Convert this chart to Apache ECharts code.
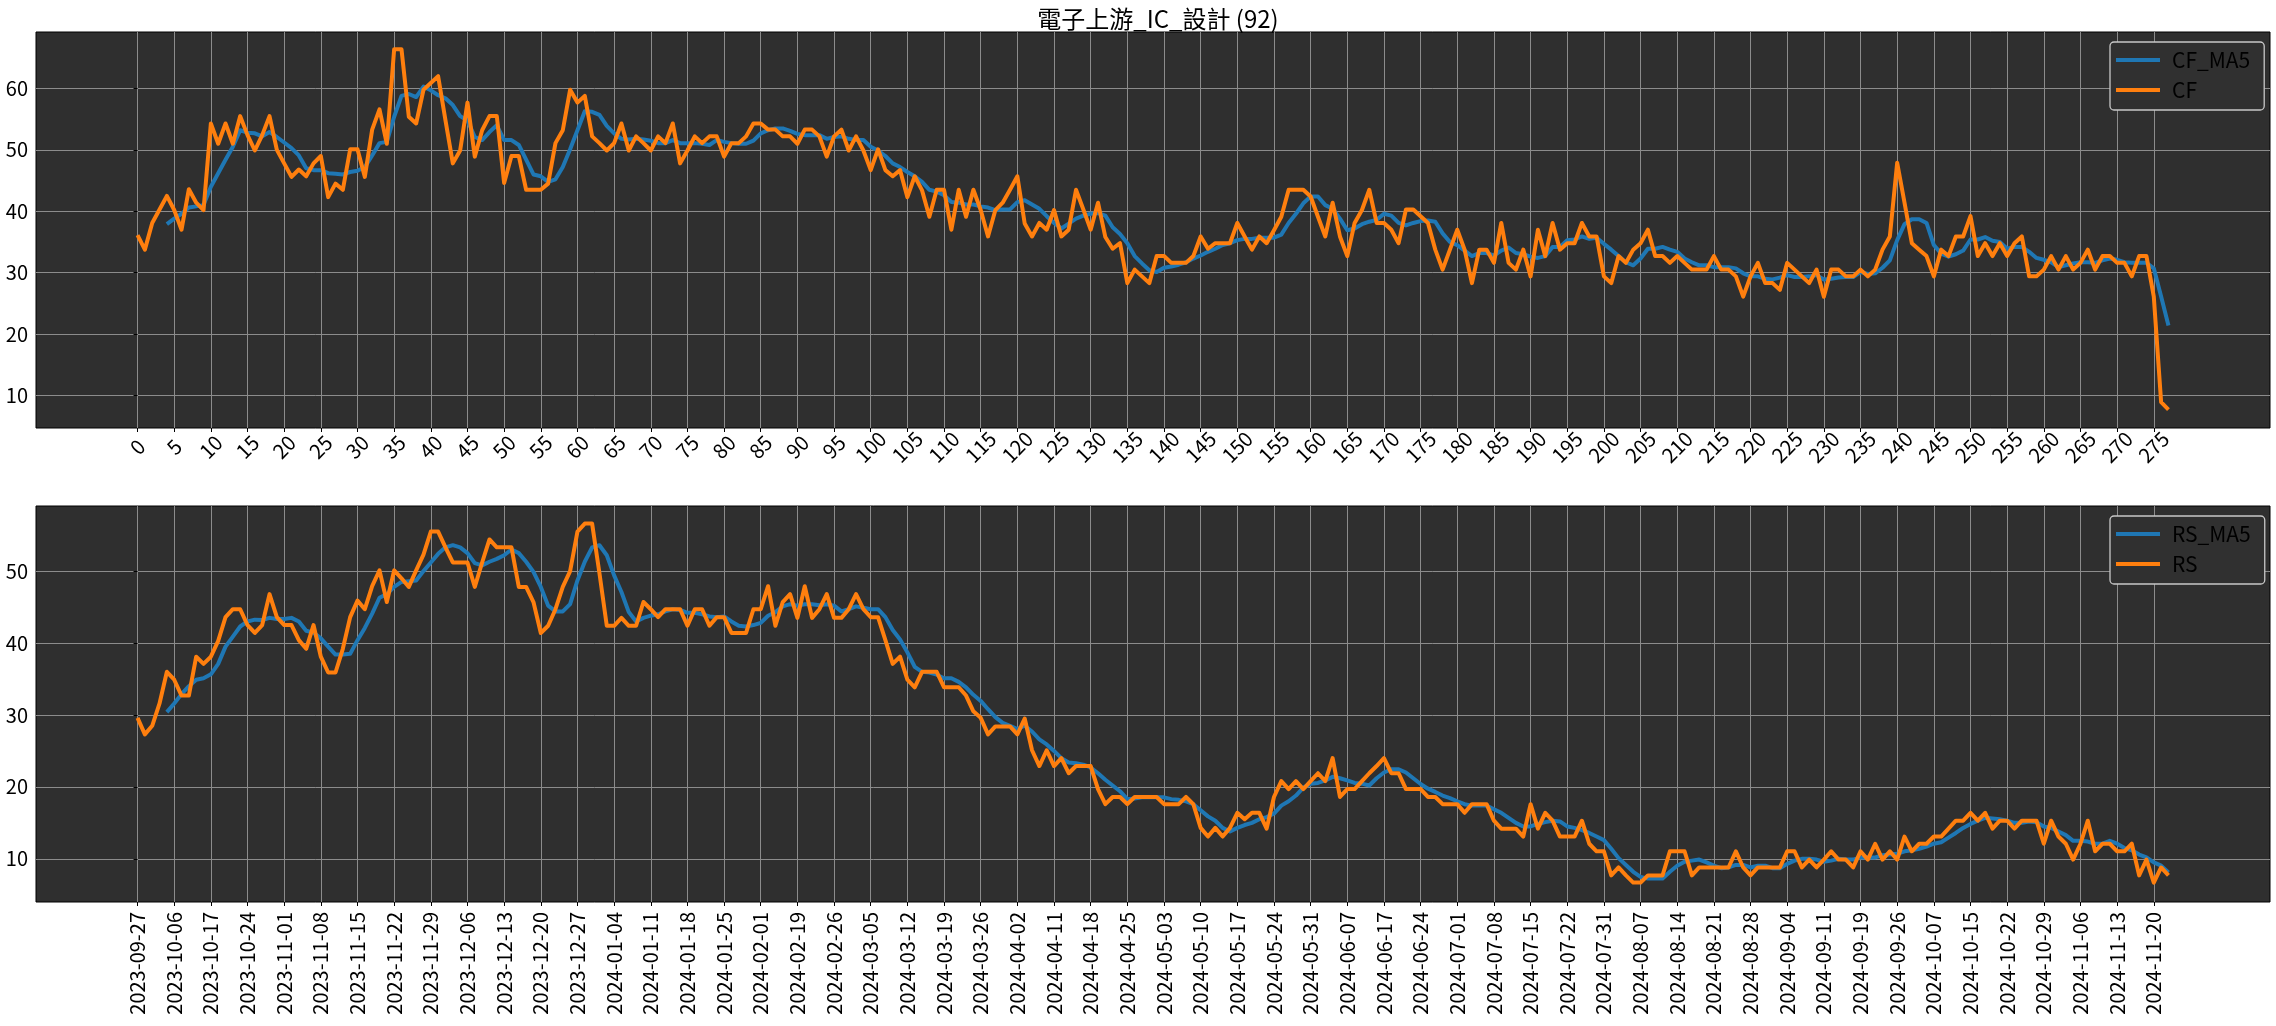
<!DOCTYPE html>
<html lang="zh-Hant">
<head>
    <meta charset="UTF-8">
    <title>電子上游_IC_設計 (92)</title>
    <script src="https://cdn.jsdelivr.net/npm/echarts@6.0.0/dist/echarts.min.js"></script>
    <style>
        html, body { margin: 0; padding: 0; background: #fff; }
        #chart { width: 2276px; height: 1026px; }
    </style>
</head>
<body>
<div id="chart"></div>
<script type="text/javascript">

    // ---- data ----
    var titleText = '電子上游_IC_設計 (92)';

    // x positions are row numbers 0..277, one per trading day
    var cf = [
        36.1, 33.75, 38.1, 40.3, 42.5, 40.2, 37.0, 43.6, 41.4, 40.2,
        54.3, 51.0, 54.3, 51.0, 55.5, 52.4, 49.9, 52.4, 55.5, 50.0,
        47.8, 45.6, 46.8, 45.7, 47.8, 49.0, 42.3, 44.5, 43.5, 50.1,
        50.1, 45.6, 53.3, 56.6, 51.0, 66.4, 66.4, 55.4, 54.3, 59.8,
        60.9, 62.0, 54.8, 47.8, 49.9, 57.7, 48.9, 53.2, 55.5, 55.5,
        44.6, 49.0, 49.0, 43.5, 43.5, 43.5, 44.5, 51.1, 53.2, 59.8,
        57.7, 58.8, 52.2, 51.1, 49.9, 51.1, 54.3, 49.9, 52.2, 51.1,
        49.9, 52.2, 51.1, 54.3, 47.8, 49.9, 52.2, 51.1, 52.2, 52.2,
        48.9, 51.1, 51.1, 52.2, 54.3, 54.3, 53.3, 53.3, 52.2, 52.2,
        51.0, 53.3, 53.3, 52.2, 48.9, 52.2, 53.3, 49.9, 52.2, 49.9,
        46.7, 50.1, 46.7, 45.7, 46.7, 42.3, 45.7, 43.4, 39.1, 43.5,
        43.5, 37.0, 43.5, 39.1, 43.5, 40.2, 35.9, 40.2, 41.4, 43.5,
        45.7, 38.0, 35.9, 38.1, 37.0, 40.2, 35.9, 37.0, 43.5, 40.3,
        37.0, 41.4, 35.8, 33.9, 34.8, 28.3, 30.5, 29.4, 28.3, 32.7,
        32.7, 31.6, 31.6, 31.6, 32.7, 35.9, 33.9, 34.8, 34.8, 34.8,
        38.1, 35.9, 33.75, 35.9, 34.8, 36.9, 39.1, 43.5, 43.5, 43.5,
        42.4, 39.1, 35.9, 41.4, 35.9, 32.7, 38.1, 40.2, 43.5, 38.1,
        38.1, 37.0, 34.8, 40.3, 40.3, 39.2, 38.1, 33.75, 30.5, 33.75,
        37.0, 33.75, 28.3, 33.75, 33.75, 31.6, 38.1, 31.6, 30.5, 33.75,
        29.4, 37.0, 32.7, 38.1, 33.75, 34.8, 34.8, 38.1, 35.9, 35.9,
        29.4, 28.3, 32.7, 31.6, 33.75, 34.8, 37.0, 32.7, 32.7, 31.6,
        32.7, 31.6, 30.5, 30.5, 30.5, 32.7, 30.5, 30.5, 29.4, 26.1,
        29.4, 31.6, 28.3, 28.3, 27.2, 31.6, 30.5, 29.4, 28.3, 30.5,
        26.1, 30.5, 30.5, 29.4, 29.4, 30.5, 29.4, 30.5, 33.75, 35.9,
        47.9, 41.4, 34.8, 33.75, 32.7, 29.4, 33.75, 32.7, 35.9, 35.9,
        39.2, 32.7, 34.8, 32.7, 34.8, 32.7, 34.8, 35.9, 29.4, 29.4,
        30.5, 32.7, 30.5, 32.7, 30.5, 31.6, 33.75, 30.5, 32.7, 32.7,
        31.6, 31.6, 29.4, 32.7, 32.7, 26.1, 8.9, 7.7
    ];

    var cfMa5 = [
        null, null, null, null, 37.9, 38.8, 39.6, 40.6, 40.8, 41.0,
        44.0, 46.2, 48.4, 50.5, 53.2, 52.8, 52.7, 52.2, 52.9, 52.1,
        51.2, 50.3, 49.1, 47.0, 46.7, 46.7, 46.2, 46.1, 46.0, 46.4,
        46.6, 47.2, 49.1, 51.1, 51.3, 55.4, 58.8, 59.1, 58.6, 60.3,
        59.7, 58.9, 58.4, 57.3, 55.5, 54.8, 52.1, 51.6, 52.9, 54.0,
        51.6, 51.6, 50.8, 48.4, 46.0, 45.7, 44.8, 45.2, 47.2, 50.1,
        53.2, 56.3, 56.2, 55.7, 53.9, 52.7, 51.8, 51.7, 51.8, 51.7,
        51.5, 51.1, 51.1, 51.6, 51.1, 51.1, 51.1, 51.0, 50.8, 51.6,
        51.3, 51.1, 51.0, 51.0, 51.5, 52.7, 53.2, 53.5, 53.5, 53.1,
        52.6, 52.4, 52.4, 52.4, 51.8, 52.1, 52.2, 51.8, 51.6, 51.6,
        50.5, 49.9, 49.0, 47.8, 47.2, 46.4, 45.7, 44.8, 43.5, 43.2,
        42.6, 41.5, 41.4, 41.1, 41.1, 40.8, 40.6, 40.2, 40.3, 40.3,
        41.5, 41.8, 41.1, 40.4, 39.2, 38.1, 37.2, 38.0, 38.8, 39.3,
        39.6, 39.7, 39.3, 37.4, 36.3, 34.8, 32.7, 31.5, 30.4, 30.1,
        30.8, 31.0, 31.3, 31.7, 32.3, 32.8, 33.4, 33.9, 34.5, 34.8,
        35.3, 35.5, 35.5, 35.7, 35.7, 35.7, 36.2, 38.1, 39.6, 41.3,
        42.4, 42.4, 41.0, 40.4, 38.8, 36.9, 37.2, 37.9, 38.3, 38.6,
        39.6, 39.3, 38.1, 37.7, 38.1, 38.4, 38.5, 38.3, 36.4, 35.0,
        34.5, 33.6, 32.7, 33.2, 33.2, 32.8, 33.6, 34.1, 33.2, 33.0,
        32.6, 32.4, 32.7, 34.2, 34.2, 35.3, 35.4, 35.9, 35.5, 35.7,
        34.7, 33.75, 32.7, 31.7, 31.2, 32.3, 33.9, 33.9, 34.2, 33.75,
        33.4, 32.3, 31.7, 31.2, 31.2, 30.9, 30.9, 30.9, 30.7, 29.9,
        29.4, 29.4, 29.0, 28.9, 29.2, 29.6, 29.3, 29.3, 29.4, 29.6,
        28.9, 29.0, 29.2, 29.3, 29.3, 30.1, 29.8, 29.9, 30.8, 32.0,
        35.3, 37.9, 38.7, 38.7, 38.1, 34.5, 33.1, 32.6, 33.0, 33.6,
        35.4, 35.4, 35.8, 35.2, 35.0, 33.9, 34.2, 34.2, 33.4, 32.4,
        32.1, 31.7, 30.9, 31.2, 31.5, 31.7, 31.7, 31.6, 32.0, 32.3,
        32.1, 31.7, 31.6, 31.6, 31.6, 30.7, 26.1, 21.4
    ];

    var rs = [
        29.6, 27.3, 28.5, 31.6, 36.0, 34.9, 32.7, 32.7, 38.1, 37.1,
        38.1, 40.3, 43.6, 44.7, 44.7, 42.5, 41.4, 42.5, 46.8, 43.6,
        42.5, 42.5, 40.4, 39.2, 42.5, 38.1, 35.9, 35.9, 39.2, 43.6,
        45.9, 44.7, 47.9, 50.1, 45.7, 50.1, 49.0, 47.8, 50.1, 52.3,
        55.5, 55.5, 53.3, 51.2, 51.2, 51.2, 47.8, 51.2, 54.4, 53.3,
        53.3, 53.3, 47.8, 47.8, 45.7, 41.4, 42.4, 44.7, 47.8, 50.0,
        55.5, 56.6, 56.6, 49.7, 42.4, 42.4, 43.5, 42.4, 42.4, 45.7,
        44.7, 43.6, 44.7, 44.7, 44.7, 42.4, 44.7, 44.7, 42.4, 43.6,
        43.6, 41.4, 41.4, 41.4, 44.7, 44.7, 47.9, 42.4, 45.7, 46.8,
        43.5, 47.9, 43.5, 44.7, 46.8, 43.5, 43.5, 44.7, 46.8, 44.7,
        43.6, 43.6, 40.4, 37.1, 38.1, 34.9, 33.85, 36.0, 36.0, 36.0,
        33.85, 33.85, 33.85, 32.7, 30.5, 29.6, 27.3, 28.4, 28.4, 28.4,
        27.3, 29.5, 25.1, 22.9, 25.1, 22.9, 24.0, 21.9, 22.9, 22.9,
        22.9, 19.7, 17.6, 18.6, 18.6, 17.6, 18.6, 18.6, 18.6, 18.6,
        17.6, 17.6, 17.6, 18.6, 17.6, 14.3, 13.1, 14.3, 13.1, 14.3,
        16.4, 15.5, 16.4, 16.4, 14.2, 18.6, 20.8, 19.7, 20.8, 19.7,
        20.8, 21.9, 20.8, 24.0, 18.6, 19.7, 19.7, 20.8, 21.9, 22.9,
        24.0, 21.9, 21.9, 19.7, 19.7, 19.7, 18.6, 18.6, 17.6, 17.6,
        17.6, 16.4, 17.6, 17.6, 17.6, 15.3, 14.2, 14.2, 14.2, 13.1,
        17.6, 14.2, 16.4, 15.3, 13.1, 13.1, 13.1, 15.3, 12.1, 11.05,
        11.05, 7.7, 8.8, 7.7, 6.7, 6.7, 7.7, 7.7, 7.7, 11.05,
        11.05, 11.05, 7.7, 8.8, 8.8, 8.8, 8.8, 8.8, 11.05, 8.8,
        7.7, 8.8, 8.8, 8.8, 8.8, 11.05, 11.05, 8.8, 9.9, 8.8,
        9.9, 11.05, 9.9, 9.9, 8.8, 11.05, 9.9, 12.1, 9.9, 11.05,
        9.9, 13.1, 11.05, 12.1, 12.1, 13.1, 13.1, 14.2, 15.3, 15.3,
        16.4, 15.3, 16.4, 14.2, 15.3, 15.3, 14.2, 15.3, 15.3, 15.3,
        12.1, 15.3, 13.1, 12.1, 9.9, 12.1, 15.3, 11.05, 12.1, 12.1,
        11.05, 11.05, 12.1, 7.7, 9.9, 6.7, 8.8, 7.7
    ];

    var rsMa5 = [
        null, null, null, null, 30.4, 31.6, 32.9, 34.0, 34.9, 35.1,
        35.65, 37.1, 39.5, 40.9, 42.3, 43.0, 43.25, 43.2, 43.5, 43.35,
        43.35, 43.5, 43.0, 41.7, 41.45, 40.65, 39.5, 38.4, 38.4, 38.5,
        40.4, 42.1, 44.1, 46.3, 46.8, 47.8, 48.5, 48.6, 48.7, 50.0,
        51.2, 52.4, 53.3, 53.6, 53.3, 52.5, 51.1, 50.8, 51.3, 51.7,
        52.2, 53.0, 52.5, 51.3, 49.9, 47.8, 45.2, 44.4, 44.4, 45.4,
        48.7, 51.3, 53.3, 53.6, 52.2, 49.4, 47.1, 44.3, 43.0, 43.5,
        43.8, 44.0, 44.4, 44.7, 44.6, 44.2, 44.2, 44.0, 43.7, 43.6,
        43.7, 43.0, 42.4, 42.3, 42.5, 42.8, 43.8, 44.3, 45.1, 45.4,
        45.2, 45.4, 45.4, 45.25, 45.4, 45.2, 44.4, 44.7, 45.1, 44.9,
        44.7, 44.7, 43.6, 41.8, 40.5, 38.7, 36.7, 36.0, 35.9, 35.6,
        35.1, 35.1, 34.6, 33.85, 32.8, 31.95, 30.8, 29.7, 28.9, 28.5,
        28.05, 28.5, 27.7, 26.6, 25.9, 25.0, 24.0, 23.4, 23.3, 23.1,
        22.7, 21.9, 21.0, 20.2, 19.4, 18.3, 18.4, 18.55, 18.55, 18.55,
        18.55, 18.3, 18.2, 18.0, 17.6, 16.75, 15.9, 15.3, 14.3, 13.8,
        14.3, 14.7, 15.0, 15.5, 15.8, 16.3, 17.4, 18.0, 18.8, 19.9,
        20.45, 20.55, 20.9, 21.4, 21.2, 20.9, 20.55, 20.45, 20.2, 21.2,
        22.0, 22.45, 22.45, 22.0, 21.2, 20.4, 19.75, 19.3, 18.8, 18.45,
        18.0, 17.6, 17.4, 17.4, 17.4, 16.9, 16.4, 15.7, 15.0, 14.5,
        14.5, 14.85, 15.1, 15.3, 15.2, 14.5, 14.3, 14.0, 13.6, 13.1,
        12.6, 11.4, 10.1, 9.15, 8.2, 7.5, 7.25, 7.25, 7.25, 8.2,
        9.05, 9.6, 9.75, 9.9, 9.5, 9.05, 8.7, 8.8, 9.15, 9.15,
        8.8, 9.05, 9.05, 8.7, 8.7, 9.3, 9.75, 10.0, 10.0, 9.9,
        9.6, 9.75, 10.0, 9.9, 9.9, 10.2, 10.2, 10.2, 10.5, 10.6,
        10.7, 11.05, 11.2, 11.4, 11.7, 12.1, 12.3, 12.95, 13.6, 14.3,
        14.85, 15.3, 15.7, 15.6, 15.5, 15.3, 15.0, 15.0, 15.2, 15.1,
        14.5, 14.3, 13.8, 13.3, 12.5, 12.5, 12.4, 12.1, 12.1, 12.5,
        12.1, 11.5, 11.2, 10.6, 10.2, 9.5, 9.05, 8.1
    ];

    // date labels under every 5th row of the lower panel
    var dateTicks = [
        '2023-09-27', '2023-10-06', '2023-10-17', '2023-10-24', '2023-11-01', '2023-11-08',
        '2023-11-15', '2023-11-22', '2023-11-29', '2023-12-06', '2023-12-13', '2023-12-20',
        '2023-12-27', '2024-01-04', '2024-01-11', '2024-01-18', '2024-01-25', '2024-02-01',
        '2024-02-19', '2024-02-26', '2024-03-05', '2024-03-12', '2024-03-19', '2024-03-26',
        '2024-04-02', '2024-04-11', '2024-04-18', '2024-04-25', '2024-05-03', '2024-05-10',
        '2024-05-17', '2024-05-24', '2024-05-31', '2024-06-07', '2024-06-17', '2024-06-24',
        '2024-07-01', '2024-07-08', '2024-07-15', '2024-07-22', '2024-07-31', '2024-08-07',
        '2024-08-14', '2024-08-21', '2024-08-28', '2024-09-04', '2024-09-11', '2024-09-19',
        '2024-09-26', '2024-10-07', '2024-10-15', '2024-10-22', '2024-10-29', '2024-11-06',
        '2024-11-13', '2024-11-20'
    ];
    var cfTicks = [10, 20, 30, 40, 50, 60];
    var rsTicks = [10, 20, 30, 40, 50];

    // ---- chart ----
    var FONT = '"Noto Sans CJK TC", "Noto Sans", sans-serif';
    var BLUE = '#1f77b4', ORANGE = '#ff7f0e';

    var xTicks = [];
    for (var k = 0; k < dateTicks.length; k++) xTicks.push(k * 5);

    function pairs(arr) {
        return arr.map(function (v, i) { return [i, v]; });
    }

    function xAxisFor(gi, labelOpt) {
        return {
            type: 'value', gridIndex: gi, min: -13.85, max: 290.85,
            axisLine: { show: false },
            axisTick: { show: true, customValues: xTicks, length: 4, lineStyle: { color: '#000', width: 1 } },
            axisLabel: labelOpt,
            splitLine: { show: true, lineStyle: { color: '#8c8c8c', width: 1 } }
        };
    }

    function yAxisFor(gi, min, max, ticks) {
        return {
            type: 'value', gridIndex: gi, min: min, max: max,
            axisLine: { show: false },
            axisTick: { show: true, customValues: ticks, length: 4, lineStyle: { color: '#000', width: 1 } },
            axisLabel: { customValues: ticks, color: '#000', fontSize: 20, fontFamily: FONT, margin: 8 },
            splitLine: { show: true, lineStyle: { color: '#8c8c8c', width: 1 } }
        };
    }

    function legendFor(top, names) {
        return {
            data: names, orient: 'vertical', left: 2110, top: top,
            icon: 'rect', itemWidth: 44, itemHeight: 4, itemGap: 8,
            padding: [7, 14, 9, 6],
            backgroundColor: '#303030', borderColor: '#c8c8c8', borderWidth: 1.3, borderRadius: 4,
            textStyle: { color: '#000', fontSize: 21, fontFamily: FONT, lineHeight: 22, padding: [0, 0, 0, 7] }
        };
    }

    function lineSeries(name, data, color, xi) {
        return {
            name: name, type: 'line', xAxisIndex: xi, yAxisIndex: xi,
            data: data, showSymbol: false, symbol: 'none', smooth: false,
            lineStyle: { color: color, width: 4, join: 'round' }, itemStyle: { color: color },
            emphasis: { disabled: true }
        };
    }

    var myChart = echarts.init(document.getElementById('chart'), null, { renderer: 'canvas' });
    myChart.setOption({
        animation: false,
        backgroundColor: '#ffffff',
        title: {
            text: titleText, left: 1153, top: 2, textAlign: 'center',
            textStyle: { color: '#000', fontSize: 24, fontWeight: 'normal', fontFamily: FONT }
        },
        legend: [legendFor(42, ['CF_MA5', 'CF']), legendFor(516, ['RS_MA5', 'RS'])],
        grid: [
            { left: 36, top: 32, width: 2234, height: 396, show: true, backgroundColor: '#2f2f2f', borderColor: '#000', borderWidth: 1 },
            { left: 36, top: 506, width: 2234, height: 396, show: true, backgroundColor: '#2f2f2f', borderColor: '#000', borderWidth: 1 }
        ],
        xAxis: [
            xAxisFor(0, {
                customValues: xTicks, color: '#000', fontSize: 20, fontFamily: FONT,
                rotate: 45, align: 'center', verticalAlign: 'middle', margin: 19,
                formatter: function (v) { return String(v); }
            }),
            xAxisFor(1, {
                customValues: xTicks, color: '#000', fontSize: 20, fontFamily: FONT,
                rotate: 90, margin: 10,
                formatter: function (v) { return dateTicks[Math.round(v / 5)] || ''; }
            })
        ],
        yAxis: [
            yAxisFor(0, 4.7, 69.2, cfTicks),
            yAxisFor(1, 4.0, 59.05, rsTicks)
        ],
        series: [
            lineSeries('CF_MA5', pairs(cfMa5), BLUE, 0),
            lineSeries('CF', pairs(cf), ORANGE, 0),
            lineSeries('RS_MA5', pairs(rsMa5), BLUE, 1),
            lineSeries('RS', pairs(rs), ORANGE, 1)
        ]
    });
</script>
</body>
</html>
